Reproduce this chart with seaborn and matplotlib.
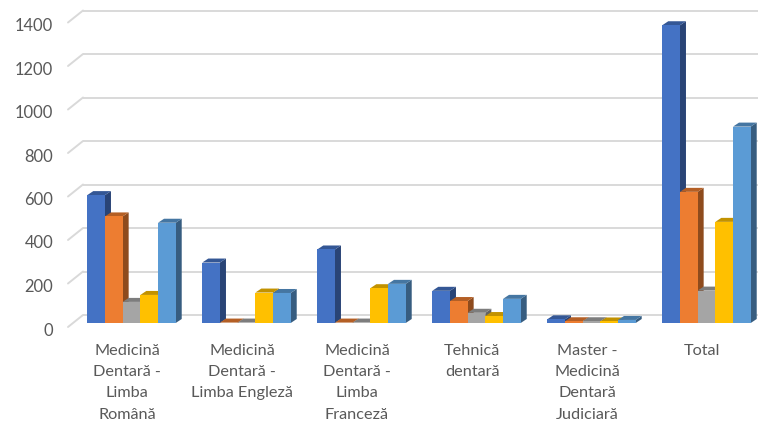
import matplotlib
matplotlib.use("Agg")
import matplotlib.pyplot as plt
import matplotlib.colors as mcolors
from matplotlib.patches import Polygon
from matplotlib.transforms import ScaledTranslation
import pandas as pd
import seaborn as sns

categories = ["Medicină\nDentară -\nLimba\nRomână", "Medicină\nDentară -\nLimba Engleză",
              "Medicină\nDentară -\nLimba\nFranceză", "Tehnică\ndentară",
              "Master -\nMedicină\nDentară\nJudiciară", "Total"]
series_names = ["Seria 1", "Seria 2", "Seria 3", "Seria 4", "Seria 5"]
seria_1 = [588, 278, 338, 148, 17, 1369]
seria_2 = [490, 2, 2, 101, 8, 603]
seria_3 = [97, 2, 2, 47, 8, 149]
seria_4 = [129, 140, 160, 32, 7, 465]
seria_5 = [461, 138, 180, 111, 14, 903]
colors = ["#4472C4", "#ED7D31", "#A5A5A5", "#FFC000", "#5B9BD5"]
y_ticks = [0, 200, 400, 600, 800, 1000, 1200, 1400]

# pixel scales of the picture
PX_X = 115.0        # pixels per category
PX_Y = 0.2175       # pixels per unit
AX_LEFT = 74
AX_BOTTOM = 323
W, H = 758, 421

rows = []
for name, vals in zip(series_names, [seria_1, seria_2, seria_3, seria_4, seria_5]):
    for cat, v in zip(categories, vals):
        rows.append({"cat": cat, "serie": name, "val": v})
df = pd.DataFrame(rows)

sns.set_style("white")
plt.rcParams["font.family"] = ["Lato", "DejaVu Sans"]

fig = plt.figure(figsize=(W / 100, H / 100), dpi=100)
ax = fig.add_axes([AX_LEFT / W, 1 - AX_BOTTOM / H, (W - AX_LEFT) / W, AX_BOTTOM / H])

sns.barplot(data=df, x="cat", y="val", hue="serie", palette=colors, saturation=1,
            width=0.769, gap=0, legend=False, ax=ax)

ax.set_xlim(-0.5, -0.5 + (W - AX_LEFT) / PX_X)
ax.set_ylim(0, AX_BOTTOM / PX_Y)
ax.set_xlabel("")
ax.set_ylabel("")
sns.despine(ax=ax, left=True, bottom=True)

# back wall gridlines and the slanted ticks
for t in y_ticks:
    back = t + 8 / PX_Y
    front = t - 4 / PX_Y
    x_back = -0.5 + 9 / PX_X
    x_front = -0.5 - 6 / PX_X
    ax.plot([x_back, ax.get_xlim()[1]], [back, back], color="#D9D9D9", lw=1.4,
            zorder=0.5, clip_on=False, solid_capstyle="butt")
    ax.plot([x_front, x_back], [front, back], color="#D9D9D9", lw=1.4,
            zorder=0.5, clip_on=False)

# side and top faces taken from the bars seaborn drew
bars = sorted(ax.patches, key=lambda p: p.get_x())
depth_x = 6 / PX_X
depth_y = 4 / PX_Y
for i, bar in enumerate(bars):
    if bar.get_width() == 0:
        continue
    x0 = bar.get_x()
    x1 = x0 + bar.get_width()
    top = bar.get_height()
    rgb = mcolors.to_rgb(bar.get_facecolor())
    side_c = tuple(c * 0.6 for c in rgb)
    top_c = tuple(c * 0.76 for c in rgb)
    z = 2 + i
    bar.set_zorder(z + 0.2)
    bar.set_linewidth(0)
    ax.add_patch(Polygon([(x1, 0), (x1 + depth_x, depth_y), (x1 + depth_x, top + depth_y), (x1, top)],
                         closed=True, fc=side_c, ec="none", zorder=z, clip_on=False))
    ax.add_patch(Polygon([(x0, top), (x0 + depth_x, top + depth_y), (x1 + depth_x, top + depth_y), (x1, top)],
                         closed=True, fc=top_c, ec="none", zorder=z + 0.1, clip_on=False))

ax.set_yticks(y_ticks)
ax.tick_params(axis="y", length=0, pad=15, labelsize=11.9, labelcolor="#595959")
ax.tick_params(axis="x", length=0, pad=15, labelsize=11.7, labelcolor="#595959")
for lab in ax.get_yticklabels():
    lab.set_transform(lab.get_transform() + ScaledTranslation(0, -6 / 100, fig.dpi_scale_trans))
for lab in ax.get_xticklabels():
    lab.set_linespacing(1.66)
    lab.set_transform(lab.get_transform() + ScaledTranslation(-4.5 / 100, 0, fig.dpi_scale_trans))

plt.savefig("out.png", dpi=100)
